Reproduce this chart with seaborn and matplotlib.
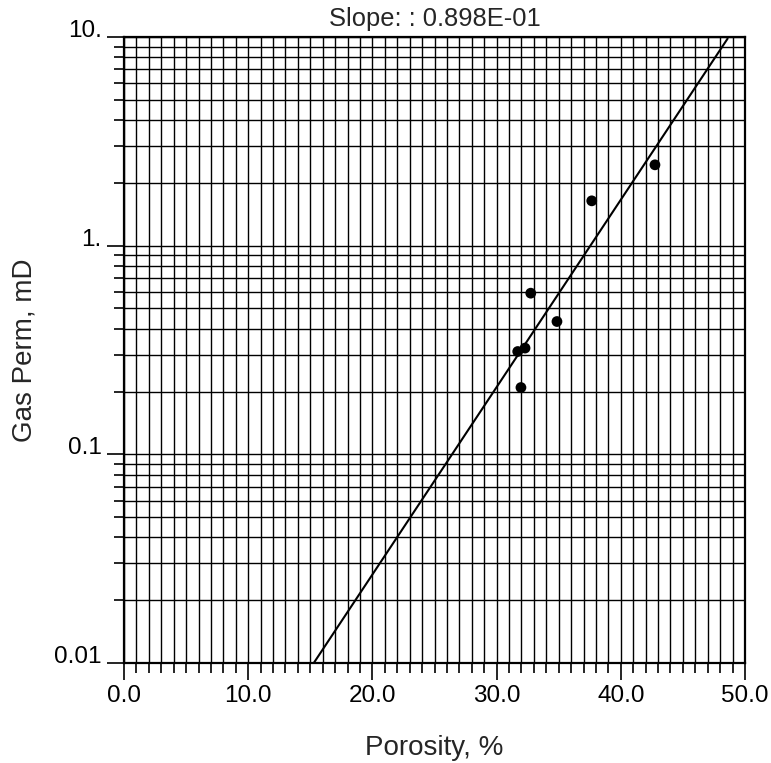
import numpy as np
import pandas as pd
import matplotlib
matplotlib.use("Agg")
import matplotlib.pyplot as plt
import matplotlib.ticker as mticker
import seaborn as sns

# ---- data ----
porosity = [42.75, 37.66, 32.75, 34.86, 32.29, 31.70, 31.96]
gas_perm = [2.44, 1.64, 0.592, 0.433, 0.323, 0.311, 0.209]
fit_slope = 0.0898          # log10(k) per % porosity
fit_intercept = -3.372
fit_x = [15.3, 48.6]

x_ticks = [0, 10, 20, 30, 40, 50]
x_ticklabels = ["0.0", "10.0", "20.0", "30.0", "40.0", "50.0"]
y_ticks = [0.01, 0.1, 1, 10]
y_ticklabels = ["0.01", "0.1", "1.", "10."]

title = "Slope: : 0.898E-01"
xlabel = "Porosity, %"
ylabel = "Gas Perm, mD"

sns.set_style("white")
plt.rcParams["font.family"] = ["Liberation Sans", "DejaVu Sans"]

fig = plt.figure(figsize=(7.71, 7.63), dpi=100)
ax = fig.add_axes([124 / 771, 1 - 663 / 763, (745 - 124) / 771, (663 - 37) / 763])

pts = pd.DataFrame({"Porosity": porosity, "Perm": gas_perm})
fit = pd.DataFrame({"Porosity": fit_x,
                    "Perm": [10 ** (fit_intercept + fit_slope * x) for x in fit_x]})

sns.lineplot(data=fit, x="Porosity", y="Perm", ax=ax, color="black", lw=1.5, zorder=3)
sns.scatterplot(data=pts, x="Porosity", y="Perm", ax=ax, color="black", s=60,
                edgecolor="none", zorder=4)

ax.set_yscale("log")
ax.set_xlim(0, 50)
ax.set_ylim(0.01, 10)

ax.xaxis.set_major_locator(mticker.FixedLocator(x_ticks))
ax.xaxis.set_major_formatter(mticker.FixedFormatter(x_ticklabels))
ax.xaxis.set_minor_locator(mticker.MultipleLocator(1))
ax.yaxis.set_major_locator(mticker.FixedLocator(y_ticks))
ax.yaxis.set_major_formatter(mticker.FixedFormatter(y_ticklabels))
ax.yaxis.set_minor_locator(mticker.LogLocator(base=10, subs=np.arange(2, 10)))
ax.yaxis.set_minor_formatter(mticker.NullFormatter())

ax.grid(which="both", color="black", lw=1.0)
ax.set_axisbelow(True)
for s in ax.spines.values():
    s.set_color("black")
    s.set_linewidth(1.6)

ax.tick_params(which="major", direction="out", length=12, width=1.2, colors="black",
               labelsize=17.5, pad=4, left=True, bottom=True)
ax.tick_params(which="minor", direction="out", length=7, width=1.2, colors="black",
               left=True, bottom=True)
for lbl in ax.get_yticklabels():
    lbl.set_verticalalignment("baseline")

ax.set_title(title, fontsize=18.4, pad=8)
ax.set_xlabel(xlabel, fontsize=20, labelpad=20)
ax.set_ylabel(ylabel, fontsize=20, labelpad=12)

fig.savefig("out.png", dpi=100)
